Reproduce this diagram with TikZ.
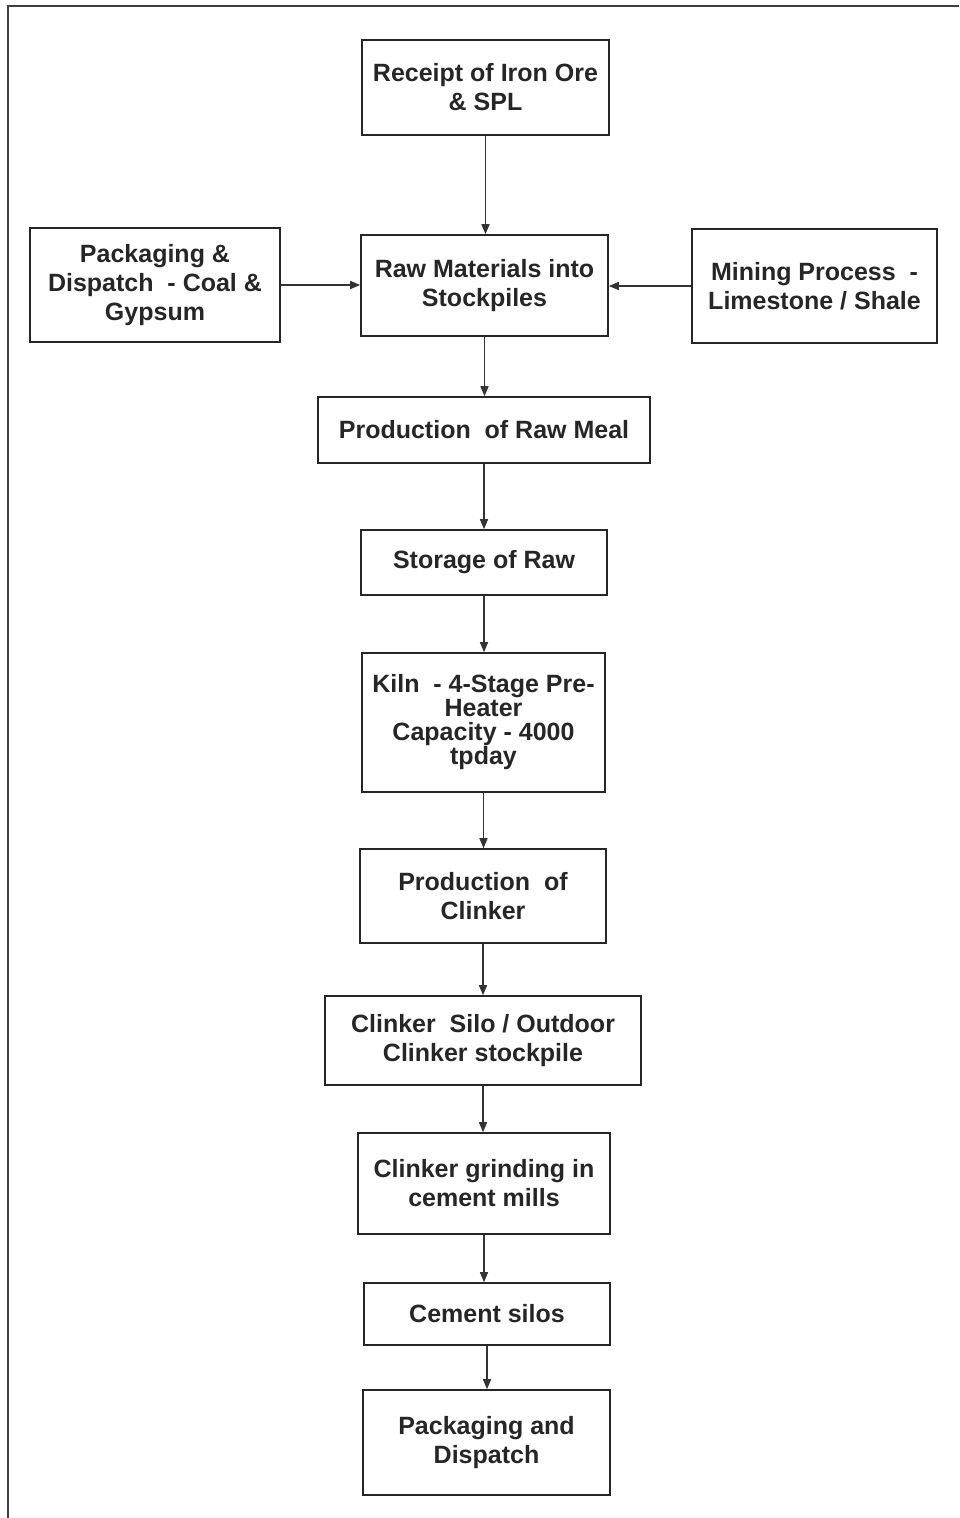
\documentclass[tikz,border=0pt]{standalone}
\usepackage{fontspec}
\setmainfont{Liberation Sans}
\usetikzlibrary{arrows.meta}
\begin{document}
\begin{tikzpicture}[x=1pt,y=-1pt,
  box/.style={draw=black!85,line width=1.6pt,inner sep=0pt,align=center,
    text=black!85,font=\fontsize{25}{29}\selectfont\bfseries},
  arr/.style={draw=black!80,line width=1.5pt,-{Triangle[length=10pt,width=8pt]}}]
\useasboundingbox (0,0) rectangle (959,1518);
\draw[black!75,line width=1.6pt] (959,6) -- (8,6) -- (8,1518);
\node[box,minimum width=247pt,minimum height=95pt] (rec) at (485.5,87.5) {Receipt of Iron Ore\\\& SPL};
\node[box,minimum width=247pt,minimum height=101pt] (raw) at (484.5,285.5) {Raw Materials into\\Stockpiles};
\node[box,minimum width=250pt,minimum height=114pt] (pack) at (155,285) {Packaging \&\\Dispatch\ \ - Coal \&\\Gypsum};
\node[box,minimum width=245pt,minimum height=114pt] (mine) at (814.5,286) {Mining Process\ \ -\\Limestone / Shale};
\node[box,minimum width=332pt,minimum height=66pt] (meal) at (484,430) {Production\ \ of Raw Meal};
\node[box,minimum width=246pt,minimum height=65pt] (stor) at (484,562.5) {Storage of Raw};
\node[box,minimum width=243pt,minimum height=139pt,font=\fontsize{25}{24}\selectfont\bfseries] (kiln) at (483.5,722.5) {Kiln\ \ - 4-Stage Pre-\\Heater\\Capacity\ - 4000\\tpday};
\node[box,minimum width=246pt,minimum height=94pt] (clk) at (483,896) {Production\ \ of\\Clinker};
\node[box,minimum width=316pt,minimum height=89pt] (silo) at (483,1040.5) {Clinker\ \ Silo / Outdoor\\Clinker stockpile};
\node[box,minimum width=252pt,minimum height=101pt] (grind) at (484,1183.5) {Clinker grinding in\\cement mills};
\node[box,minimum width=246pt,minimum height=62pt] (csilo) at (487,1314) {Cement silos};
\node[box,minimum width=247pt,minimum height=105pt] (disp) at (486.5,1442.5) {Packaging and\\Dispatch};
\draw[arr] (rec.south) -- (rec.south |- raw.north);
\draw[arr] (pack.east) -- (pack.east -| raw.west);
\draw[arr] (mine.west) -- (mine.west -| raw.east);
\draw[arr] (raw.south) -- (raw.south |- meal.north);
\draw[arr] (meal.south) -- (meal.south |- stor.north);
\draw[arr] (stor.south) -- (stor.south |- kiln.north);
\draw[arr] (kiln.south) -- (kiln.south |- clk.north);
\draw[arr] (clk.south) -- (clk.south |- silo.north);
\draw[arr] (silo.south) -- (silo.south |- grind.north);
\draw[arr] (grind.south) -- (grind.south |- csilo.north);
\draw[arr] (csilo.south) -- (csilo.south |- disp.north);
\end{tikzpicture}
\end{document}
